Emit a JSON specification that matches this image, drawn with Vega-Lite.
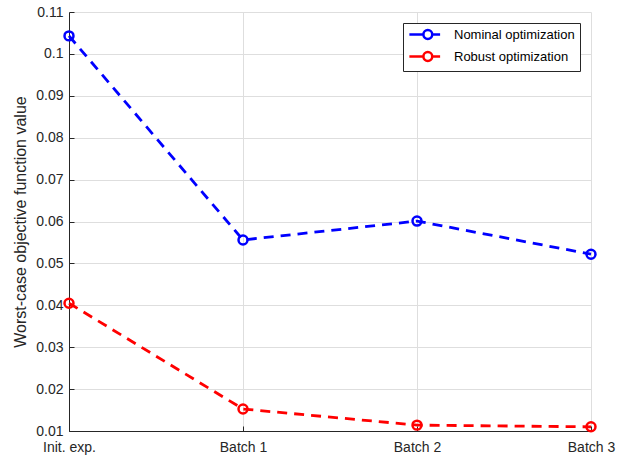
{
  "$schema": "https://vega.github.io/schema/vega-lite/v6.json",
  "width": 522,
  "height": 419,
  "autosize": "none",
  "padding": {"left": 69, "top": 12, "right": 44, "bottom": 26},
  "background": "white",
  "config": {
    "view": {"stroke": null},
    "font": "Liberation Sans",
    "axis": {
      "labelFont": "Liberation Sans",
      "titleFont": "Liberation Sans",
      "labelColor": "#262626",
      "titleColor": "#262626",
      "domainColor": "#262626",
      "tickColor": "#262626",
      "gridColor": "#dedede",
      "gridWidth": 1,
      "labelFontSize": 14,
      "titleFontSize": 16,
      "titleFontWeight": "normal"
    }
  },
  "data": {
    "values": [
      {"series": "Nominal optimization", "stage": "Init. exp.", "value": 0.1043},
      {"series": "Nominal optimization", "stage": "Batch 1", "value": 0.0556},
      {"series": "Nominal optimization", "stage": "Batch 2", "value": 0.0601},
      {"series": "Nominal optimization", "stage": "Batch 3", "value": 0.0522},
      {"series": "Robust optimization", "stage": "Init. exp.", "value": 0.0405},
      {"series": "Robust optimization", "stage": "Batch 1", "value": 0.01525},
      {"series": "Robust optimization", "stage": "Batch 2", "value": 0.0114},
      {"series": "Robust optimization", "stage": "Batch 3", "value": 0.0110}
    ]
  },
  "encoding": {
    "x": {
      "field": "stage",
      "type": "ordinal",
      "sort": ["Init. exp.", "Batch 1", "Batch 2", "Batch 3"],
      "scale": {"type": "point", "padding": 0},
      "axis": {
        "title": null,
        "labelAngle": 0,
        "grid": true,
        "tickSize": -5,
        "labelPadding": 14,
        "domainWidth": 1
      }
    },
    "y": {
      "field": "value",
      "type": "quantitative",
      "scale": {"domain": [0.01, 0.11], "nice": false, "zero": false},
      "axis": {
        "title": "Worst-case objective function value",
        "values": [0.01, 0.02, 0.03, 0.04, 0.05, 0.06, 0.07, 0.08, 0.09, 0.1, 0.11],
        "format": "~g",
        "grid": true,
        "tickSize": -5,
        "labelPadding": 11,
        "titlePadding": 7,
        "domainWidth": 1
      }
    },
    "color": {
      "field": "series",
      "type": "nominal",
      "scale": {"domain": ["Nominal optimization", "Robust optimization"], "range": ["#0000ff", "#ff0000"]},
      "legend": {
        "title": null,
        "orient": "top-right",
        "offset": 11,
        "fillColor": "white",
        "strokeColor": "#262626",
        "padding": 5,
        "rowPadding": 3,
        "labelFont": "Liberation Sans",
        "labelFontSize": 13,
        "labelColor": "#000000",
        "labelOffset": 33,
        "symbolType": "M-1,0H1.74M3.46,0H5M3.46,0A0.86,0.86,0,1,1,1.74,0A0.86,0.86,0,1,1,3.46,0",
        "symbolSize": 105,
        "symbolStrokeWidth": 2.5,
        "symbolFillColor": "transparent"
      }
    }
  },
  "layer": [
    {
      "mark": {"type": "line", "strokeWidth": 2.8, "strokeDash": [10, 7]}
    },
    {
      "mark": {"type": "point", "shape": "circle", "filled": false, "size": 80, "strokeWidth": 2.5, "opacity": 1}
    }
  ]
}
